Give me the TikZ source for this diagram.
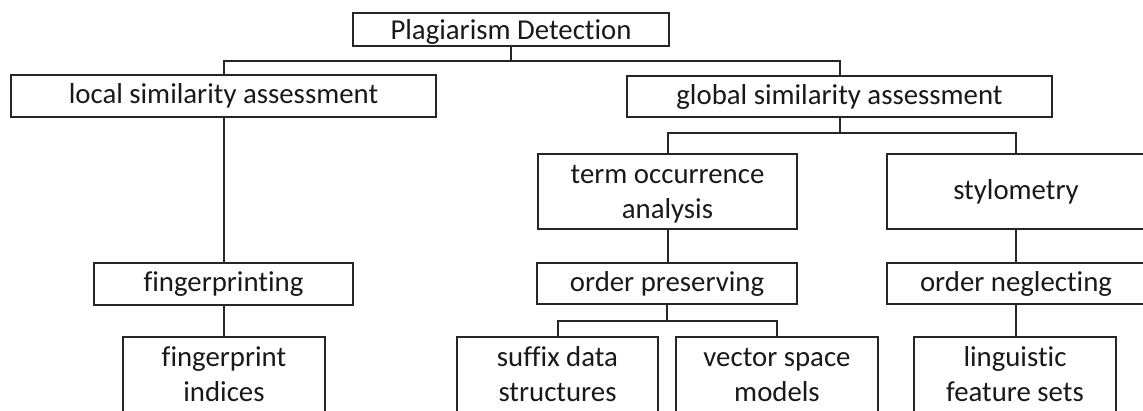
\documentclass[tikz,border=0pt]{standalone}
\usepackage{fontspec}
\setmainfont[Ligatures=NoCommon]{Carlito}
% two centred lines, baseline on the first line
\newcommand\duo[2]{\vtop{\baselineskip=35pt\lineskiplimit=-100pt\halign{\hfil##\hfil\cr#1\cr#2\cr}}}
\begin{document}
\begin{tikzpicture}[x=1pt,y=-1pt,
  box/.style={draw=black!85, line width=2pt, inner sep=0pt, text=black!90,
              font=\fontsize{28.8}{35}\selectfont},
  one/.style={box, text height=20pt, text depth=5pt},
  two/.style={box, text height=23pt, text depth=40pt},
  link/.style={draw=black!85, line width=2pt}]
\fill[white] (0,0) rectangle (1143,410);
\useasboundingbox (0,0) rectangle (1143,410);

% nodes
\node[one, minimum width=316pt, minimum height=33pt, text height=24pt, text depth=4pt]
  (root) at (511,29.5) {Plagiarism Detection};
\node[one, minimum width=425pt, minimum height=42pt] (local)  at (223.5,96)  {local similarity assessment};
\node[one, minimum width=425pt, minimum height=41pt] (global) at (839.5,96.5) {global similarity assessment};

\node[two, minimum width=259pt, minimum height=75pt] (term)  at (667.5,191.5) {\duo{term occurrence}{analysis}};
\node[one, minimum width=258pt, minimum height=75pt] (stylo) at (1016,191.5)  {stylometry};

\node[one, minimum width=259pt, minimum height=42pt] (fprinting) at (223.5,284) {fingerprinting};
\node[one, minimum width=260pt, minimum height=41pt] (orderp) at (667,283.5)  {order preserving};
\node[one, minimum width=258pt, minimum height=41pt] (ordern) at (1016,283.5) {order neglecting};

\node[two, minimum width=202pt, minimum height=75pt] (findex) at (224,374.5)   {\duo{fingerprint}{indices}};
\node[two, minimum width=201pt, minimum height=75pt] (suffix) at (557.5,374.5) {\duo{suffix data}{structures}};
\node[two, minimum width=202pt, minimum height=75pt] (vector) at (777,374.5)   {\duo{vector space}{models}};
\node[two, minimum width=202pt, minimum height=75pt] (ling)   at (1015,374.5)  {\duo{linguistic}{feature sets}};

% bus levels
\coordinate (busA) at (0,61);
\coordinate (busB) at (0,133);
\coordinate (busC) at (0,321);

% connectors
\draw[link] (root.south) -- (root.south |- busA) -| (local.north);
\draw[link] (root.south |- busA) -| (global.north);
\draw[link] (global.south) -- (global.south |- busB) -| (term.north);
\draw[link] (global.south |- busB) -| (stylo.north);
\draw[link] (local.south) -- (local.south |- fprinting.north);
\draw[link] (fprinting.south) -- (fprinting.south |- findex.north);
\draw[link] (term.south) -- (term.south |- orderp.north);
\draw[link] (stylo.south) -- (stylo.south |- ordern.north);
\draw[link] (orderp.south) -- (orderp.south |- busC) -| (suffix.north);
\draw[link] (orderp.south |- busC) -| (vector.north);
\draw[link] (ordern.south) -- (ordern.south |- ling.north);
\end{tikzpicture}
\end{document}
